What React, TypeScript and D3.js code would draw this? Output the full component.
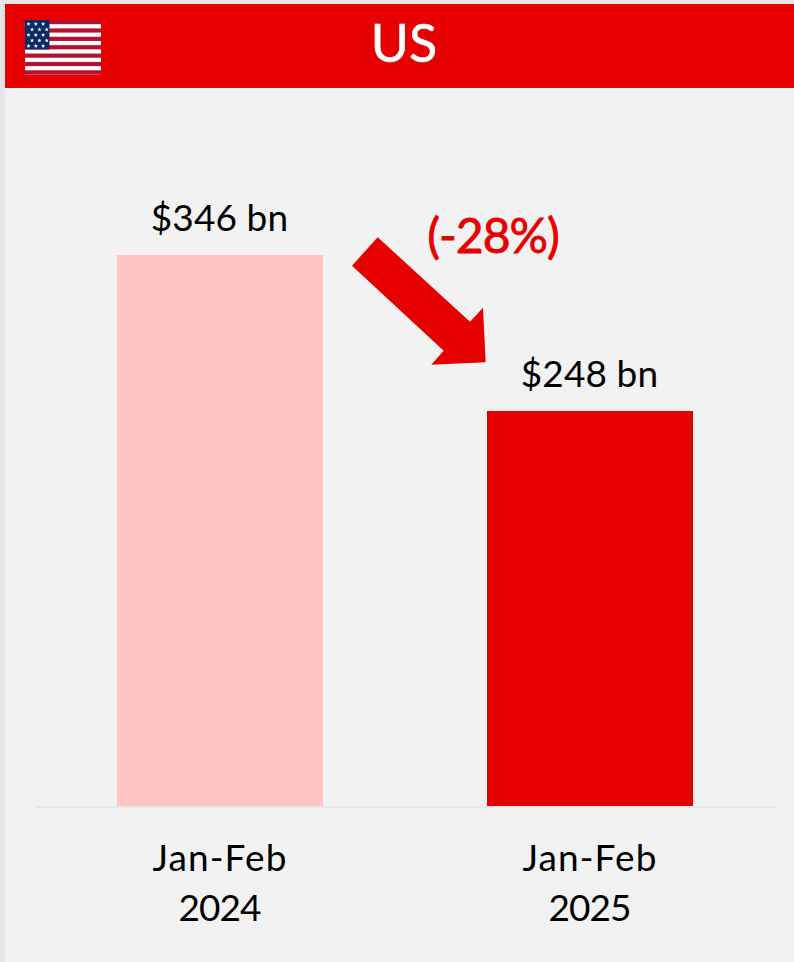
import React from 'react';
import * as d3 from 'd3';

const periods = ['Jan-Feb 2024', 'Jan-Feb 2025'];
const tickLines = [['Jan-Feb', '2024'], ['Jan-Feb', '2025']];
const exports_bn = [346, 248];
const valueLabels = ['$346 bn', '$248 bn'];
const barColors = ['#ffc5c5', '#e60000'];
const changeLabel = '(-28%)';
const title = 'US';

const width = 794;
const height = 962;
const font = 'Lato, sans-serif';

// block arrow outline
const arrowOutline: [number, number][] = [
  [377.7, 237.3], [470, 321.7], [483, 307.7], [485.7, 362.3],
  [431.3, 364.7], [443.7, 350.7], [352, 265.7],
];

const flagStripes = d3.range(13);
const flagStarRows = [0, 1, 2, 3, 4];

const App = () => {
  const x = d3.scaleBand().domain(periods).range([35, 775]).paddingInner(164 / 370).paddingOuter(82 / 370);
  const y = d3.scaleLinear().domain([0, 346]).rangeRound([806, 255.4]);

  const stripeY = d3.scaleBand().domain(flagStripes.map(String)).range([20, 74.5]);
  const starPath = d3.symbol(d3.symbolStar, 6)() as string;

  return (
    <svg width={width} height={height} style={{ position: 'absolute', left: 0, top: 0 }}>
      <rect x={0} y={0} width={width} height={height} fill="#e6e6e6" />
      <rect x={5} y={4} width={width - 5} height={height - 4} fill="#f2f2f2" />
      <rect x={5} y={4} width={width - 5} height={84} fill="#e60000" />

      <g>
        <rect x={25} y={20} width={76} height={54.5} fill="#ffffff" />
        {flagStripes.filter(i => i % 2 === 0).map(i => (
          <rect key={i} x={25} y={stripeY(String(i))} width={76} height={stripeY.bandwidth()} fill="#b5122f" />
        ))}
        <rect x={25} y={20} width={24.5} height={29.5} fill="#0a2a66" />
        {flagStarRows.map(r =>
          d3.range(3).map(c => (
            <path
              key={`${r}-${c}`}
              d={starPath}
              fill="#ffffff"
              transform={`translate(${28.5 + c * 7.3 + (r % 2) * 3.6},${24 + r * 5.5})`}
            />
          ))
        )}
      </g>

      <text
        x={404}
        y={62}
        textAnchor="middle"
        fontFamily={font}
        fontSize={52}
        stroke="#ffffff"
        strokeWidth={0.6}
        fill="#ffffff"
      >
        {title}
      </text>

      {periods.map((p, i) => (
        <rect
          key={p}
          x={x(p)}
          y={y(exports_bn[i])}
          width={x.bandwidth()}
          height={y(0) - y(exports_bn[i])}
          fill={barColors[i]}
        />
      ))}

      <line x1={35} x2={775} y1={807} y2={807} stroke="#e6e6e6" strokeWidth={2} />

      {periods.map((p, i) => {
        const cx = (x(p) as number) + x.bandwidth() / 2;
        return (
          <g key={p} fontFamily={font} fontSize={37} fill="#000000" textAnchor="middle">
            <text x={cx - 0.5} y={y(exports_bn[i]) - 24.5} letterSpacing={0.1}>{valueLabels[i]}</text>
            <text x={cx} y={871} letterSpacing={1.1}>{tickLines[i][0]}</text>
            <text x={cx - 0.5} y={921} letterSpacing={-1}>{tickLines[i][1]}</text>
          </g>
        );
      })}

      <path d={(d3.line()(arrowOutline) as string) + 'Z'} fill="#e60000" />
      <text
        x={493}
        y={253}
        textAnchor="middle"
        fontFamily={font}
        fontSize={48}
        letterSpacing={-1}
        stroke="#e60000"
        strokeWidth={0.8}
        fill="#e60000"
      >
        {changeLabel}
      </text>
    </svg>
  );
};

export default App;
